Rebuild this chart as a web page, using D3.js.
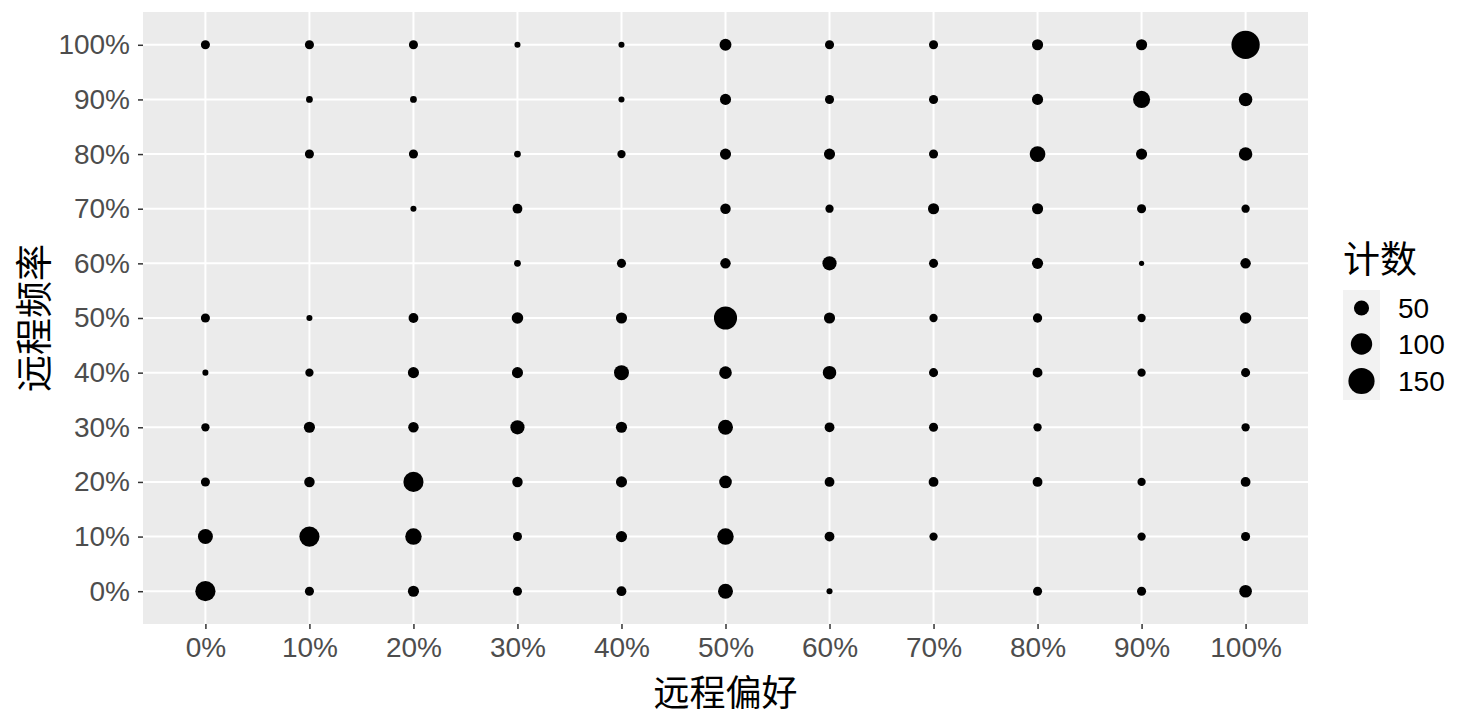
<!DOCTYPE html>
<html>
<head>
<meta charset="utf-8">
<script src="https://cdn.jsdelivr.net/npm/d3@7/dist/d3.min.js"></script>
<style>
  body { margin: 0; background: #fff; }
  text { font-family: "Liberation Sans", Arial, sans-serif; }
  .cjk { font-family: "Noto Sans CJK SC", sans-serif; }
</style>
</head>
<body>
<svg id="chart" width="1475" height="720"></svg>
<script>
// x: 远程偏好, y: 远程频率 (both as discrete levels)
const levels = ["0%", "10%", "20%", "30%", "40%", "50%", "60%", "70%", "80%", "90%", "100%"]

// counts for each 远程频率 row, ordered by 远程偏好 0% .. 100% (0 = no point)
const freq0   = [89, 18, 27, 18, 21, 49,  8,  0, 18, 18,  35]
const freq10  = [49, 89, 59, 18, 27, 59, 21, 15,  0, 15,  18]
const freq20  = [18, 24, 89, 24, 27, 35, 21, 21, 21, 15,  21]
const freq30  = [15, 27, 24, 44, 27, 49, 21, 18, 15,  0,  15]
const freq40  = [ 8, 15, 27, 27, 49, 35, 40, 18, 21, 15,  18]
const freq50  = [18,  8, 21, 29, 27, 117, 27, 15, 19, 15, 29]
const freq60  = [ 0,  0,  0, 10, 18, 24, 44, 18, 27,  6,  24]
const freq70  = [ 0,  0,  8, 21,  0, 24, 15, 27, 27, 18,  15]
const freq80  = [ 0, 18, 18, 10, 15, 27, 27, 18, 54, 27,  40]
const freq90  = [ 0, 10, 10,  0,  8, 27, 18, 18, 27, 64,  40]
const freq100 = [18, 18, 18,  8,  8, 31, 18, 18, 27, 27, 175]

const legendBreaks = [50, 100, 150]

const rows = [freq0, freq10, freq20, freq30, freq40, freq50, freq60, freq70, freq80, freq90, freq100]

const svg = d3.select("#chart")

const panel = { left: 143, right: 1308, top: 12, bottom: 624 }

let x = d3.scalePoint()
  .domain(levels)
  .range([panel.left, panel.right])
  .padding(0.6)

let y = d3.scalePoint()
  .domain(levels)
  .range([panel.bottom, panel.top])
  .padding(0.6)

// point area follows the count
let size = d3.scaleSqrt()
  .domain([0, 150])
  .range([0, 13.1])

// panel background
svg.append("rect")
  .attr("x", panel.left)
  .attr("y", panel.top)
  .attr("width", panel.right - panel.left)
  .attr("height", panel.bottom - panel.top)
  .attr("fill", "#EBEBEB")

// grid lines
let grid = svg.append("g").attr("class", "grid")
grid.selectAll("line.gx")
  .data(levels)
  .enter().append("line")
  .attr("class", "gx")
  .attr("x1", d => x(d)).attr("x2", d => x(d))
  .attr("y1", panel.top).attr("y2", panel.bottom)
  .attr("stroke", "#fff").attr("stroke-width", 2)
grid.selectAll("line.gy")
  .data(levels)
  .enter().append("line")
  .attr("class", "gy")
  .attr("y1", d => y(d)).attr("y2", d => y(d))
  .attr("x1", panel.left).attr("x2", panel.right)
  .attr("stroke", "#fff").attr("stroke-width", 2)

// points
let cells = []
rows.forEach((row, j) => {
  row.forEach((n, i) => {
    if (n > 0) cells.push({ px: levels[i], py: levels[j], n: n })
  })
})

svg.append("g").attr("class", "points")
  .selectAll("circle")
  .data(cells)
  .enter().append("circle")
  .attr("cx", d => x(d.px))
  .attr("cy", d => y(d.py))
  .attr("r", d => size(d.n))
  .attr("fill", "#000")

// axes
let xAxis = svg.append("g")
  .attr("transform", "translate(0," + panel.bottom + ")")
  .call(d3.axisBottom(x).tickSize(5).tickPadding(8))
let yAxis = svg.append("g")
  .attr("transform", "translate(" + panel.left + ",0)")
  .call(d3.axisLeft(y).tickSize(5).tickPadding(8))

;[xAxis, yAxis].forEach(a => {
  a.select(".domain").remove()
  a.selectAll(".tick line").attr("stroke", "#333").attr("stroke-width", 1.5)
  a.selectAll(".tick text")
    .attr("fill", "#4D4D4D")
    .style("font-size", "28px")
    .style("font-family", "'Liberation Sans', Arial, sans-serif")
})

// axis titles
svg.append("text")
  .attr("class", "cjk")
  .attr("x", (panel.left + panel.right) / 2)
  .attr("y", 706)
  .attr("text-anchor", "middle")
  .style("font-size", "36px")
  .attr("fill", "#000")
  .text("远程偏好")

svg.append("text")
  .attr("class", "cjk")
  .attr("transform", "translate(48," + (panel.top + panel.bottom) / 2 + ") rotate(-90)")
  .attr("text-anchor", "middle")
  .style("font-size", "37px")
  .attr("fill", "#000")
  .text("远程频率")

// legend
let legend = svg.append("g").attr("transform", "translate(1343,0)")
legend.append("text")
  .attr("class", "cjk")
  .attr("x", 0).attr("y", 273)
  .style("font-size", "37px")
  .attr("fill", "#000")
  .text("计数")

let keyY = [308, 344, 381]
legend.append("rect")
  .attr("x", 0).attr("y", 290)
  .attr("width", 37).attr("height", 110)
  .attr("fill", "#F2F2F2")

legend.selectAll("circle")
  .data(legendBreaks)
  .enter().append("circle")
  .attr("cx", 18.5)
  .attr("cy", (d, i) => keyY[i])
  .attr("r", d => size(d))
  .attr("fill", "#000")

legend.selectAll("text.lab")
  .data(legendBreaks)
  .enter().append("text")
  .attr("class", "lab")
  .attr("x", 55)
  .attr("y", (d, i) => keyY[i])
  .attr("dy", "0.35em")
  .style("font-size", "28px")
  .attr("fill", "#000")
  .text(d => d)
</script>
</body>
</html>
